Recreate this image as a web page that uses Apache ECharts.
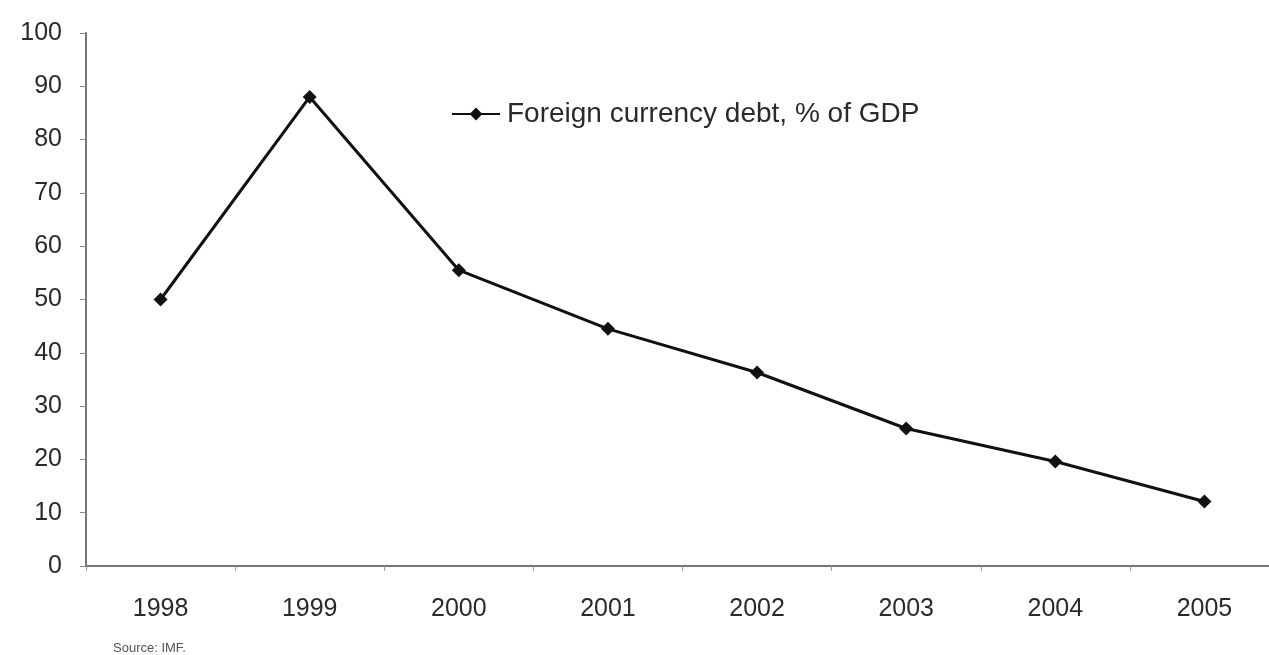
<!DOCTYPE html>
<html><head><meta charset="utf-8">
<script src="https://cdn.jsdelivr.net/npm/echarts@6/dist/echarts.min.js"></script>
<style>html,body{margin:0;padding:0;background:#fff}#c{width:1269px;height:655px}</style>
</head><body><div id="c"></div>
<script>
const categories = ['1998','1999','2000','2001','2002','2003','2004','2005'];
const debtValues = [50, 88, 55.5, 44.5, 36.3, 25.8, 19.6, 12.1];
const seriesName = 'Foreign currency debt, % of GDP';
const sourceText = 'Source: IMF.';

const FONT = 'Liberation Sans, Arial, sans-serif';
const chart = echarts.init(document.getElementById('c'));
chart.setOption({
  animation: false,
  backgroundColor: '#fff',
  textStyle: { fontFamily: FONT },
  grid: { left: 86, width: 1193, top: 33, height: 533, outerBoundsMode: 'none' },
  legend: {
    data: [seriesName],
    left: 446, top: 95,
    itemWidth: 48, itemHeight: 16,
    itemGap: 3,
    textStyle: { fontSize: 28, color: '#2a2a2a', padding: [0, 0, 0, 2] }
  },
  graphic: [{
    type: 'text', left: 113, top: 642,
    style: { text: sourceText, fontSize: 13, fill: '#555', fontFamily: FONT }
  }],
  xAxis: {
    type: 'category', data: categories, boundaryGap: true,
    axisLine: { lineStyle: { color: '#777', width: 2 } },
    axisTick: { show: true, inside: false, length: 5, lineStyle: { color: '#999' } },
    axisLabel: { fontSize: 25, color: '#2a2a2a', margin: 31 }
  },
  yAxis: {
    type: 'value', min: 0, max: 100, interval: 10,
    axisLine: { show: true, lineStyle: { color: '#777', width: 2 } },
    axisTick: { show: true, length: 6, lineStyle: { color: '#888' } },
    splitLine: { show: false },
    axisLabel: { fontSize: 25, color: '#2a2a2a', margin: 24 }
  },
  series: [{
    name: seriesName, type: 'line', data: debtValues,
    symbol: 'diamond', symbolSize: 14,
    lineStyle: { color: '#111', width: 3 },
    itemStyle: { color: '#111' }
  }]
});
</script></body></html>
